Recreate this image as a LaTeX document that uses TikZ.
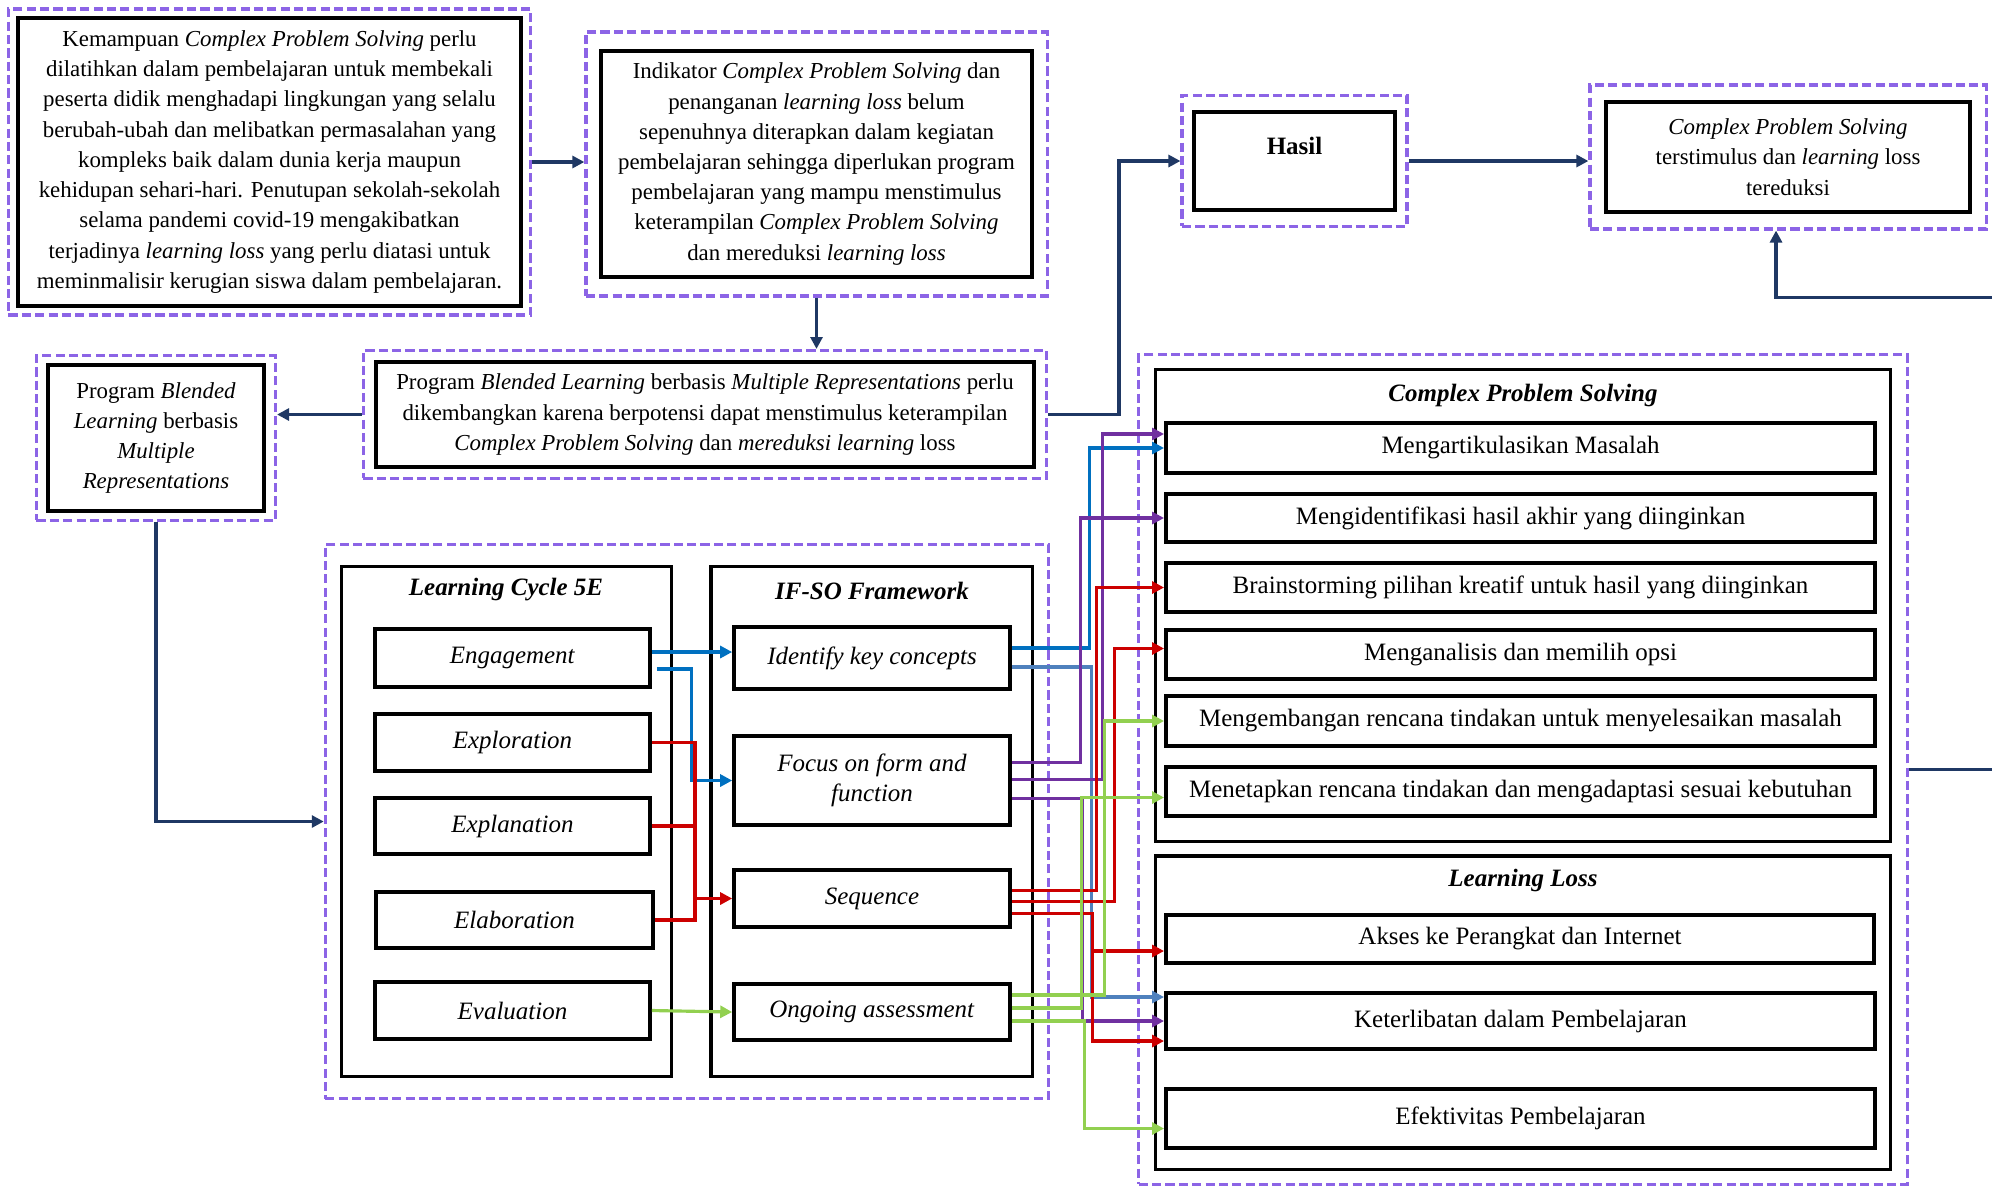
\documentclass[tikz,border=0pt]{standalone}
\usepackage{fontspec}
\setmainfont{Liberation Serif}
\usetikzlibrary{arrows.meta,positioning,calc,fit}

\definecolor{navy}{RGB}{31,56,100}
\definecolor{dashpurple}{RGB}{140,100,230}
\definecolor{lnblue}{RGB}{0,112,192}
\definecolor{lnsteel}{RGB}{79,129,189}
\definecolor{lnpurple}{RGB}{112,48,160}
\definecolor{lnred}{RGB}{204,0,0}
\definecolor{lngreen}{RGB}{146,208,80}

\tikzset{
  txtbox/.style={draw, line width=1.1pt, align=center, inner sep=0pt, font=\fontsize{6.5}{8.6}\selectfont},
  itembox/.style={draw, line width=1pt, align=center, inner sep=0pt, font=\fontsize{7.1}{8.6}\selectfont},
  groupbox/.style={draw, line width=0.9pt, inner sep=0pt},
  heading/.style={font=\fontsize{7.1}{8.6}\selectfont\bfseries\itshape},
  dashframe/.style={draw=dashpurple, line width=0.9pt, dash pattern=on 2.6pt off 1.2pt, inner sep=0pt},
  flow/.style={navy, line width=1pt, -{Triangle[length=3.4pt,width=3.4pt]}},
  link/.style={line width=0.9pt, -{Triangle[length=3.4pt,width=3.4pt]}},
}

\begin{document}
\begin{tikzpicture}[x=0.01cm, y=-0.01cm]
\useasboundingbox (0,0) rectangle (1992,1187);

% top row
\node[txtbox, minimum width=5.03cm, minimum height=2.88cm] (intro) at (269.5,162)
  {Kemampuan \textit{Complex Problem Solving} perlu\\
   dilatihkan dalam pembelajaran untuk membekali\\
   peserta didik menghadapi lingkungan yang selalu\\
   berubah-ubah dan melibatkan permasalahan yang\\
   kompleks baik dalam dunia kerja maupun\\
   kehidupan sehari-hari. Penutupan sekolah-sekolah\\
   selama pandemi covid-19 mengakibatkan\\
   terjadinya \textit{learning loss} yang perlu diatasi untuk\\
   meminmalisir kerugian siswa dalam pembelajaran.};
\node[dashframe, fit=(intro), inner xsep=0.075cm, inner ysep=0.07cm] (introf) {};

\node[txtbox, minimum width=4.31cm, minimum height=2.26cm] (indik) at (816.5,164)
  {Indikator \textit{Complex Problem Solving} dan\\
   penanganan \textit{learning loss} belum\\
   sepenuhnya diterapkan dalam kegiatan\\
   pembelajaran sehingga diperlukan program\\
   pembelajaran yang mampu menstimulus\\
   keterampilan \textit{Complex Problem Solving}\\
   dan mereduksi \textit{learning loss}};
\node[dashframe, fit=(indik), inner xsep=0.13cm, inner ysep=0.17cm] (indikf) {};

\node[txtbox, minimum width=2.01cm, minimum height=0.98cm, font=\fontsize{7.1}{8.6}\selectfont] (hasil) at (1294.5,161)
  {\textbf{Hasil}\\ \mbox{}};
\node[dashframe, fit=(hasil), inner xsep=0.10cm, inner ysep=0.145cm] (hasilf) {};

\node[txtbox, minimum width=3.64cm, minimum height=1.10cm] (out) at (1788,157)
  {\textit{Complex Problem Solving}\\
   terstimulus dan \textit{learning} loss\\
   tereduksi};
\node[dashframe, fit=(out), inner xsep=0.14cm, inner ysep=0.15cm] (outf) {};

% program row
\node[txtbox, minimum width=2.16cm, minimum height=1.46cm] (progs) at (156,438)
  {Program \textit{Blended}\\
   \textit{Learning} berbasis\\
   \textit{Multiple}\\
   \textit{Representations}};
\node[dashframe, fit=(progs), inner xsep=0.095cm, inner ysep=0.075cm] (progsf) {};

\node[txtbox, minimum width=6.58cm, minimum height=1.05cm] (progl) at (705,414.5)
  {Program \textit{Blended Learning} berbasis \textit{Multiple Representations} perlu\\
   dikembangkan karena berpotensi dapat menstimulus keterampilan\\
   \textit{Complex Problem Solving} dan \textit{mereduksi learning} loss};
\node[dashframe, fit=(progl), inner xsep=0.105cm, inner ysep=0.095cm] (proglf) {};

% learning cycle and IF-SO
\node[groupbox, minimum width=3.29cm, minimum height=5.09cm] (lc) at (506.5,821.5) {};
\node[heading] (lchead) at (506,590) {Learning Cycle 5E};
\node[groupbox, minimum width=3.21cm, minimum height=5.09cm] (ifso) at (871.5,821.5) {};
\node[heading] (ifsohead) at (872,591) {IF-SO Framework};
\node[dashframe, fit=(lc)(ifso), inner xsep=0.15cm, inner ysep=0.21cm] (leftf) {};

\node[itembox, minimum width=2.75cm, minimum height=0.58cm] (eng) at (512.5,658) {\textit{Engagement}};
\node[itembox, minimum width=2.75cm, minimum height=0.57cm] (explo) at (512.5,742.5) {\textit{Exploration}};
\node[itembox, minimum width=2.75cm, minimum height=0.56cm] (expla) at (512.5,826) {\textit{Explanation}};
\node[itembox, minimum width=2.77cm, minimum height=0.56cm] (elab) at (514.5,920) {\textit{Elaboration}};
\node[itembox, minimum width=2.75cm, minimum height=0.57cm] (eval) at (512.5,1010.5) {\textit{Evaluation}};

\node[itembox, minimum width=2.76cm, minimum height=0.62cm] (ident) at (872,658) {\textit{Identify key concepts}};
\node[itembox, minimum width=2.76cm, minimum height=0.89cm] (focus) at (872,780.5) {\textit{Focus on form and}\\ \textit{function}};
\node[itembox, minimum width=2.76cm, minimum height=0.57cm] (seq) at (872,898.5) {\textit{Sequence}};
\node[itembox, minimum width=2.76cm, minimum height=0.56cm] (ongo) at (872,1012) {\textit{Ongoing assessment}};

% complex problem solving and learning loss
\node[groupbox, minimum width=7.34cm, minimum height=4.71cm] (cps) at (1523,605.5) {};
\node[heading] (cpshead) at (1523,395) {Complex Problem Solving};
\node[groupbox, minimum width=7.34cm, minimum height=3.13cm] (ll) at (1523,1012.5) {};
\node[heading] (llhead) at (1523,880) {Learning Loss};
\node[dashframe, fit=(cps)(ll), inner xsep=0.155cm, inner ysep=0.135cm] (rightf) {};

\node[itembox, minimum width=7.09cm, minimum height=0.50cm] (artik) at (1520.5,448) {Mengartikulasikan Masalah};
\node[itembox, minimum width=7.09cm, minimum height=0.48cm] (mengid) at (1520.5,518) {Mengidentifikasi hasil akhir yang diinginkan};
\node[itembox, minimum width=7.09cm, minimum height=0.49cm] (brain) at (1520.5,587.5) {Brainstorming pilihan kreatif untuk hasil yang diinginkan};
\node[itembox, minimum width=7.09cm, minimum height=0.49cm] (anal) at (1520.5,654.5) {Menganalisis dan memilih opsi};
\node[itembox, minimum width=7.09cm, minimum height=0.50cm] (kemb) at (1520.5,721) {Mengembangan rencana tindakan untuk menyelesaikan masalah};
\node[itembox, minimum width=7.09cm, minimum height=0.49cm] (tetap) at (1520.5,791.5) {Menetapkan rencana tindakan dan mengadaptasi sesuai kebutuhan};

\node[itembox, minimum width=7.08cm, minimum height=0.48cm] (akses) at (1520,939) {Akses ke Perangkat dan Internet};
\node[itembox, minimum width=7.09cm, minimum height=0.56cm] (libat) at (1520.5,1021) {Keterlibatan dalam Pembelajaran};
\node[itembox, minimum width=7.09cm, minimum height=0.59cm] (efek) at (1520.5,1118.5) {Efektivitas Pembelajaran};

% main flow
\draw[flow] (introf.east) -- (introf.east -| indikf.west);
\draw[flow] (indikf.south) -- (indikf.south |- proglf.north);
\draw[flow] (proglf.west) -- (proglf.west -| progsf.east);
\draw[flow] (proglf.east) -- ++(71,0) |- (hasilf.west);
\draw[flow] (hasilf.east) -- (hasilf.east -| outf.west);
\draw[flow] (progsf.south) |- (leftf.west);
\draw[flow] (rightf.east) -- ++(120,0) |- ($(outf.south)+(-12,67)$) -- ++(0,-67);

% learning cycle to IF-SO
\coordinate (redlane) at (695,0);
\draw[link, lnblue] ($(eng.east)+(0,-6)$) -- ($(ident.west)+(0,-6)$);
\draw[link, lnblue] ($(eng.east)+(5,11)$) -- ++(35,0) |- (focus.west);
\draw[line width=0.9pt, lnred] (explo.east) -- (explo.east -| redlane) -- (elab.east -| redlane) -- (elab.east);
\draw[line width=0.9pt, lnred] (expla.east) -- (expla.east -| redlane);
\draw[link, lnred] (seq.west -| redlane) -- (seq.west);
\draw[link, lngreen] (eval.east) -- (ongo.west);

% IF-SO to indicators
\draw[link, lnblue] ($(ident.east)+(0,-10)$) -- ++(78,0) |- (artik.west);
\draw[link, lnsteel] ($(ident.east)+(0,9)$) -- ++(80,0) |- ($(libat.west)+(0,-24)$);
\draw[link, lnpurple] ($(focus.east)+(0,-18)$) -- ++(69,0) |- (mengid.west);
\draw[link, lnpurple] ($(focus.east)+(0,-1)$) -- ++(91,0) |- ($(artik.west)+(0,-14)$);
\draw[link, lnpurple] ($(focus.east)+(0,18)$) -- ++(71,0) |- (libat.west);
\draw[link, lnred] ($(seq.east)+(0,-8)$) -- ++(85,0) |- (brain.west);
\draw[link, lnred] ($(seq.east)+(0,3)$) -- ++(103,0) |- ($(anal.west)+(0,-6)$);
\draw[link, lnred] ($(seq.east)+(0,15)$) -- ++(81,0) |- ($(libat.west)+(0,20)$);
\draw[link, lnred] ($(seq.east)+(81,15)$) |- ($(akses.west)+(0,12)$);
\draw[link, lngreen] ($(ongo.east)+(0,-17)$) -- ++(93,0) |- (kemb.west);
\draw[link, lngreen] ($(ongo.east)+(0,-4)$) -- ++(70,0) |- ($(tetap.west)+(0,6)$);
\draw[link, lngreen] ($(ongo.east)+(0,9)$) -- ++(73,0) |- ($(efek.west)+(0,10)$);
\end{tikzpicture}
\end{document}
